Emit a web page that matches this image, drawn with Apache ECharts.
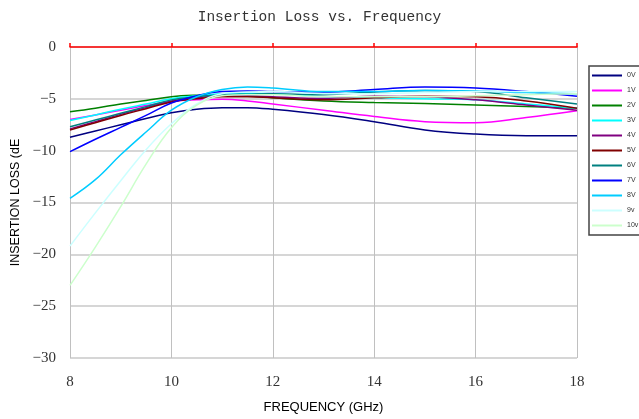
<!DOCTYPE html>
<html>
<head>
<meta charset="utf-8">
<script src="https://cdn.jsdelivr.net/npm/echarts@6/dist/echarts.min.js"></script>
<style>html,body{margin:0;padding:0;background:#fff}#c{width:639px;height:419px}</style>
</head>
<body>
<div id="c"></div>
<script>
var freq = [8, 8.5, 9, 9.5, 10, 10.5, 11, 11.5, 12, 13, 14, 15, 16, 17, 18];
var names = ['0V','1V','2V','3V','4V','5V','6V','7V','8V','9v','10v'];
var colors = ['#000080','#FF00FF','#008000','#00FFFF','#800080','#800000','#008080','#0000FF','#00CCFF','#CCFFFF','#CCFFCC'];
var v0  = [-8.7, -8.1, -7.5, -6.9, -6.35, -6.0, -5.85, -5.85, -6.0, -6.5, -7.2, -8.0, -8.4, -8.55, -8.55];
var v1  = [-7.0, -6.55, -6.1, -5.65, -5.25, -5.1, -5.05, -5.2, -5.5, -6.1, -6.7, -7.2, -7.3, -6.8, -6.15];
var v2  = [-6.25, -5.9, -5.5, -5.15, -4.8, -4.65, -4.6, -4.7, -4.9, -5.2, -5.35, -5.45, -5.6, -5.75, -5.9];
var v3  = [-7.1, -6.55, -6.0, -5.5, -5.0, -4.7, -4.5, -4.45, -4.5, -4.8, -4.9, -5.0, -5.1, -5.5, -5.9];
var v4  = [-7.9, -7.2, -6.5, -5.85, -5.2, -4.9, -4.7, -4.7, -4.8, -4.95, -4.75, -4.8, -5.1, -5.6, -6.1];
var v5  = [-8.0, -7.3, -6.6, -5.95, -5.3, -5.0, -4.8, -4.8, -4.9, -5.1, -4.9, -4.75, -4.8, -5.2, -5.9];
var v6  = [-7.7, -7.05, -6.4, -5.75, -5.1, -4.8, -4.6, -4.55, -4.5, -4.6, -4.35, -4.2, -4.3, -4.9, -5.5];
var v7  = [-10.1, -8.9, -7.75, -6.6, -5.4, -4.7, -4.3, -4.25, -4.3, -4.35, -4.1, -3.85, -3.95, -4.3, -4.75];
var v8  = [-14.6, -12.8, -10.4, -8.2, -6.1, -4.8, -4.1, -3.85, -3.95, -4.3, -4.3, -4.2, -4.25, -4.4, -4.5];
var v9  = [-19.2, -16.0, -12.9, -9.9, -7.4, -5.5, -4.5, -4.35, -4.3, -4.5, -4.5, -4.4, -4.3, -4.3, -4.3];
var v10 = [-23.0, -19.3, -15.4, -11.3, -7.8, -5.6, -4.7, -4.6, -4.6, -4.8, -4.8, -4.8, -4.7, -4.6, -4.5];
var values = [v0, v1, v2, v3, v4, v5, v6, v7, v8, v9, v10];
var xTicks = [8, 10, 12, 14, 16, 18];
var yTicks = [0, -5, -10, -15, -20, -25, -30];

var chart = echarts.init(document.getElementById('c'));
var series = names.map(function (n, i) {
  return {
    name: n, type: 'line', smooth: 0.4, showSymbol: false, symbol: 'none',
    xAxisIndex: 0,
    lineStyle: { color: colors[i], width: 1.5 }, itemStyle: { color: colors[i] },
    data: freq.map(function (f, k) { return [f, values[i][k]]; })
  };
});
chart.setOption({
  animation: false,
  backgroundColor: '#fff',
  title: {
    text: 'Insertion Loss vs. Frequency', left: 'center', top: 5,
    textStyle: { fontFamily: 'Liberation Mono', fontSize: 14.5, fontWeight: 'normal', color: '#333' }
  },
  legend: {
    orient: 'vertical', left: 589, top: 66,
    data: names, icon: 'rect', itemWidth: 30, itemHeight: 2, itemGap: 8,
    padding: [6, 14, 6, 3],
    borderColor: '#444', borderWidth: 1.5, backgroundColor: '#fff',
    textStyle: { fontFamily: 'Liberation Sans', fontSize: 7, color: '#333' }
  },
  grid: { left: 70, right: 62, top: 47, bottom: 60 },
  xAxis: [{
    type: 'value', min: 8, max: 18, interval: 2, position: 'bottom',
    name: 'FREQUENCY (GHz)', nameLocation: 'middle', nameGap: 43,
    nameTextStyle: { fontFamily: 'Liberation Sans', fontSize: 13, color: '#000' },
    axisLine: { show: false, onZero: false }, axisTick: { show: false },
    axisLabel: { fontFamily: 'Liberation Serif', fontSize: 15, color: '#333', margin: 17 },
    splitLine: { show: true, lineStyle: { color: '#c0c0c0', width: 1 } }
  }, {
    type: 'value', min: 8, max: 18, interval: 2, position: 'top',
    axisLine: { show: true, lineStyle: { color: '#ff0000', width: 1.5 } },
    axisTick: { show: true, length: 4, lineStyle: { color: '#ff0000', width: 1.5 } },
    axisLabel: { show: false }, splitLine: { show: false }
  }],
  yAxis: {
    type: 'value', min: -30, max: 0, interval: 5,
    name: 'INSERTION LOSS (dE', nameLocation: 'middle', nameGap: 45, nameRotate: 90,
    nameTextStyle: { fontFamily: 'Liberation Sans', fontSize: 12.5, color: '#000' },
    axisLine: { show: false }, axisTick: { show: false },
    axisLabel: { fontFamily: 'Liberation Serif', fontSize: 15, color: '#333', margin: 14,
      formatter: function (v) { return String(v).replace('-', '\u2212'); } },
    splitLine: { show: true, lineStyle: { color: '#c8c8c8', width: 1.5 } }
  },
  series: series
});
</script>
</body>
</html>
